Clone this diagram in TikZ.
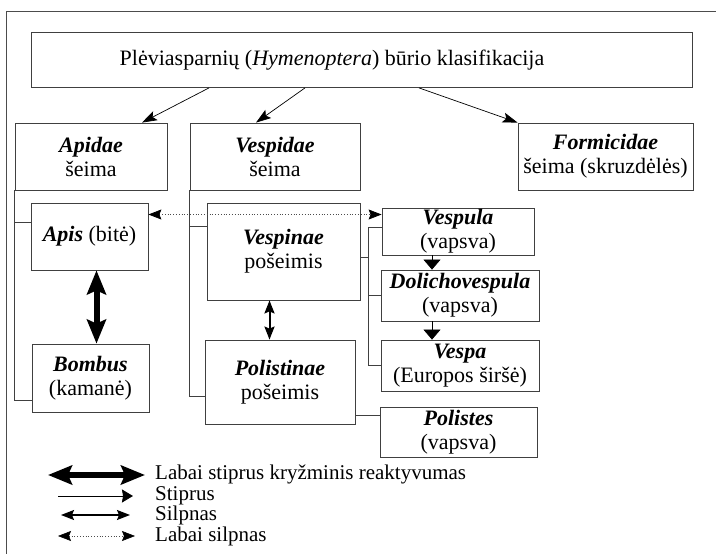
\documentclass[tikz,border=0pt]{standalone}
\usepackage{fontspec}
\setmainfont{Liberation Serif}
\usetikzlibrary{arrows.meta}

\begin{document}
\begin{tikzpicture}[x=1pt, y=-1pt,
    box/.style={draw=black!75, line width=0.8pt, align=center, inner sep=0pt, font=\fontsize{22}{24}\selectfont},
    tree/.style={draw=black!75, line width=0.8pt},
    arr/.style={black, line width=0.7pt, -{Stealth[length=15pt, width=10pt, inset=3pt]}},
    vstrong/.style={black, line width=6pt, {Stealth[length=24pt, width=19pt, inset=4pt]}-{Stealth[length=24pt, width=19pt, inset=4pt]}},
    strong/.style={black, line width=1pt, -{Stealth[length=11pt, width=13pt, inset=1pt]}},
    weak/.style={black, line width=2pt, {Stealth[length=13pt, width=10pt, inset=2pt]}-{Stealth[length=13pt, width=10pt, inset=2pt]}},
    vweak/.style={black!70, line width=0.8pt, dotted, {Stealth[length=13pt, width=10pt, inset=2pt, black]}-{Stealth[length=13pt, width=10pt, inset=2pt, black]}},
    down/.style={black, line width=0.7pt, -{Triangle[length=10pt, width=17pt]}},
    legtext/.style={anchor=west, inner sep=0pt, text height=13pt, text depth=4pt, font=\fontsize{21}{21}\selectfont}]
                
                \useasboundingbox (0,0) rectangle (716,554);
                \draw [black!70, line width=0.8pt] (6,554) -- (6,11) -- (716,11);

                \node [box, minimum width=661, minimum height=55] (title) at (362,60) {Plėviasparnių (\textit{Hymenoptera}) būrio klasifikacija\hspace*{60pt}};

                \node [box, minimum width=152, minimum height=67] (apidae) at (91,156.5) {\textbf{\textit{Apidae}}\\šeima};
                \node [box, minimum width=170, minimum height=67] (vespidae) at (275,156.5) {\textbf{\textit{Vespidae}}\\šeima};
                \node [box, minimum width=175, minimum height=67] (formicidae) at (605.5,156.5) {\textbf{\textit{Formicidae}}\\šeima (skruzdėlės)};

                \node [box, minimum width=117, minimum height=67] (apis) at (89.5,236.5) {\textbf{\textit{Apis}} (bitė)};
                \node [box, minimum width=117, minimum height=68] (bombus) at (90.5,378) {\textbf{\textit{Bombus}}\\(kamanė)};
                \node [box, minimum width=153, minimum height=97] (vespinae) at (283.5,251.5) {\textbf{\textit{Vespinae}}\\pošeimis};
                \node [box, minimum width=150, minimum height=84] (polistinae) at (280,382) {\textbf{\textit{Polistinae}}\\pošeimis};

                \node [box, minimum width=152, minimum height=47] (vespula) at (458,231.5) {\textbf{\textit{Vespula}}\\(vapsva)};
                \node [box, minimum width=158, minimum height=51] (doli) at (460,295.5) {\textbf{\textit{Dolichovespula}}\\(vapsva)};
                \node [box, minimum width=158, minimum height=51] (vespa) at (460,365.5) {\textbf{\textit{Vespa}}\\(Europos širšė)};
                \node [box, minimum width=157, minimum height=50] (polistes) at (458.5,432) {\textbf{\textit{Polistes}}\\(vapsva)};

                \draw [arr] ([xshift=-153]title.south) -- ([xshift=51]apidae.north);
                \draw [arr] ([xshift=-57]title.south) -- ([xshift=-19]vespidae.north);
                \draw [arr] ([xshift=57]title.south) -- (formicidae.north west);

                \draw [tree] (apidae.south west) |- ([yshift=-22]bombus.west);
                \draw [tree] ([yshift=14]apis.west) -- ([yshift=14]apis.west -| apidae.west);
                \draw [tree] (vespidae.south west) |- ([yshift=-14]polistinae.west);
                \draw [tree] ([yshift=25]vespinae.west) -- ([yshift=25]vespinae.west -| vespidae.west);
                \draw [tree] ([yshift=-6]vespinae.east) -- ++(8,0) coordinate (br);
                \draw [tree] ([yshift=4]vespula.west) -| (br) |- (vespa.west);
                \draw [tree] (doli.west) -- (doli.west -| br);
                \draw [tree] ([yshift=17]polistes.west) -- ([yshift=17]polistes.west -| polistinae.east);

                \draw [vstrong] ([xshift=7]apis.south) -- ([xshift=7]apis.south |- bombus.north);
                \draw [weak] ([xshift=-14]vespinae.south) -- ([xshift=-14]vespinae.south |- polistinae.north);
                \draw [vweak] ([yshift=22]apis.east) -- ([yshift=22]apis.east -| vespula.west);
                \draw [down] ([xshift=-26]vespula.south) -- ([xshift=-26]vespula.south |- doli.north);
                \draw [down] ([xshift=-28]doli.south) -- ([xshift=-28]doli.south |- vespa.north);

                \coordinate (l1a) at (48,475);  \coordinate (l1b) at (145,475);
                \coordinate (l2a) at (58,496);  \coordinate (l2b) at (133,496);
                \coordinate (l3a) at (61,515);  \coordinate (l3b) at (130,515);
                \coordinate (l4a) at (58,536);  \coordinate (l4b) at (135,536);
                \draw [vstrong] (l1a) -- (l1b);
                \draw [strong] (l2a) -- (l2b);
                \draw [weak, line width=1.2pt] (l3a) -- (l3b);
                \draw [vweak, line width=0.6pt] (l4a) -- (l4b);
                \node [legtext] (t1) at (155,475) {Labai stiprus kryžminis reaktyvumas};
                \node [legtext] (t2) at (155,496) {Stiprus};
                \node [legtext] (t3) at (155,516) {Silpnas};
                \node [legtext] (t4) at (155,537) {Labai silpnas};
            \end{tikzpicture}
\end{document}
